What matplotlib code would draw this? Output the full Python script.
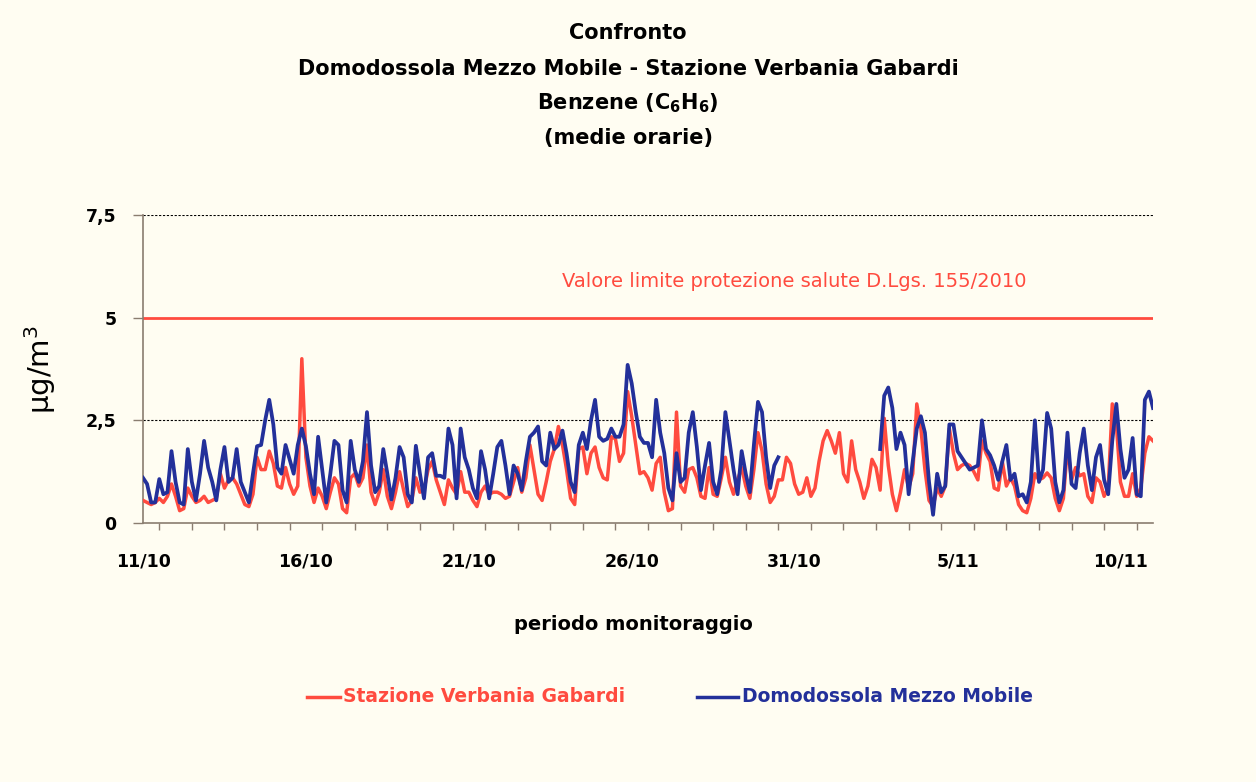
import numpy as np
import matplotlib
matplotlib.use("Agg")
import matplotlib.pyplot as plt
from matplotlib.lines import Line2D

nan = np.nan

# ---- data (one value every 3 hours from 11/10 00:00) ----
step_hours = 3

verbania_gabardi = [
    0.55, 0.5, 0.45, 0.5, 0.6, 0.5, 0.65, 0.95, 0.65, 0.3,
    0.35, 0.85, 0.65, 0.5, 0.55, 0.65, 0.5, 0.55, 0.6, 1.2,
    0.85, 1.05, 1.1, 0.95, 0.7, 0.45, 0.4, 0.7, 1.6, 1.3,
    1.3, 1.75, 1.45, 0.9, 0.85, 1.35, 0.95, 0.7, 0.9, 4.0,
    1.6, 0.9, 0.5, 0.85, 0.65, 0.35, 0.75, 1.1, 0.95, 0.35,
    0.25, 1.1, 1.2, 0.9, 1.1, 1.9, 0.75, 0.45, 0.75, 1.3,
    0.65, 0.35, 0.75, 1.25, 0.8, 0.4, 0.55, 1.1, 0.75, 0.8,
    1.3, 1.5, 1.05, 0.75, 0.45, 1.05, 0.85, 0.7, 1.25, 0.75,
    0.75, 0.55, 0.4, 0.75, 0.9, 0.7, 0.75, 0.75, 0.7, 0.6,
    0.65, 1.0, 1.35, 0.75, 1.1, 1.9, 1.3, 0.7, 0.55, 1.0,
    1.5, 1.8, 2.35, 1.9, 1.3, 0.6, 0.45, 1.8, 1.85, 1.2,
    1.7, 1.85, 1.35, 1.1, 1.05, 2.1, 2.05, 1.5, 1.7, 3.2,
    2.6, 1.9, 1.2, 1.25, 1.1, 0.8, 1.45, 1.6, 0.75, 0.3,
    0.35, 2.7, 0.9, 0.75, 1.3, 1.35, 1.1, 0.65, 0.6, 1.35,
    0.7, 0.65, 1.1, 1.6, 1.0, 0.7, 1.05, 1.35, 0.9, 0.6,
    1.3, 2.2, 1.75, 0.95, 0.5, 0.65, 1.05, 1.05, 1.6, 1.45,
    0.95, 0.7, 0.75, 1.1, 0.65, 0.85, 1.5, 2.0, 2.25, 2.0,
    1.7, 2.2, 1.2, 1.0, 2.0, 1.3, 1.0, 0.6, 0.9, 1.55,
    1.35, 0.8, 2.55, 1.4, 0.7, 0.3, 0.75, 1.3, 0.85, 1.2,
    2.9, 2.3, 1.3, 0.55, 0.4, 0.85, 0.65, 0.9, 2.3, 1.7,
    1.3, 1.4, 1.45, 1.4, 1.25, 1.05, 2.0, 1.7, 1.5, 0.85,
    0.8, 1.5, 0.9, 1.1, 0.9, 0.45, 0.3, 0.25, 0.6, 1.2,
    1.05, 1.1, 1.22, 1.1, 0.6, 0.3, 0.6, 1.85, 1.05, 1.35,
    1.15, 1.2, 0.65, 0.5, 1.1, 1.0, 0.65, 0.85, 2.9, 2.4,
    1.0, 0.65, 0.65, 1.2, 0.65, 0.85, 1.7, 2.1, 2.0,
]

domodossola_mezzo_mobile = [
    1.1, 0.95, 0.5, 0.5, 1.07, 0.7, 0.75, 1.75, 1.0, 0.5,
    0.45, 1.8, 1.0, 0.55, 1.2, 2.0, 1.35, 1.0, 0.55, 1.3,
    1.85, 1.0, 1.1, 1.8, 1.0, 0.75, 0.5, 1.2, 1.87, 1.9,
    2.5, 3.0, 2.4, 1.35, 1.2, 1.9, 1.55, 1.2, 1.9, 2.3,
    1.87, 1.2, 0.7, 2.1, 1.3, 0.5, 1.2, 2.0, 1.9, 0.8,
    0.5, 2.0, 1.3, 1.0, 1.5, 2.7, 1.4, 0.75, 0.9, 1.8,
    1.2, 0.57, 1.1, 1.85, 1.6, 0.7, 0.5, 1.88, 1.2, 0.6,
    1.6, 1.7, 1.15, 1.15, 1.1, 2.3, 1.9, 0.6, 2.3, 1.6,
    1.3, 0.85, 0.6, 1.75, 1.3, 0.6, 1.2, 1.85, 2.0, 1.4,
    0.7, 1.4, 1.2, 0.8, 1.5, 2.1, 2.2, 2.35, 1.5, 1.4,
    2.2, 1.8, 1.9, 2.25, 1.7, 1.0, 0.75, 1.9, 2.2, 1.8,
    2.5, 3.0, 2.1, 2.0, 2.05, 2.3, 2.1, 2.1, 2.4, 3.85,
    3.4, 2.7, 2.1, 1.95, 1.95, 1.6, 3.0, 2.2, 1.7, 0.85,
    0.55, 1.7, 1.0, 1.1, 2.2, 2.7, 1.85, 0.8, 1.4, 1.95,
    1.0, 0.7, 1.3, 2.7, 2.0, 1.3, 0.7, 1.75, 1.2, 0.75,
    1.9, 2.95, 2.7, 1.6, 0.85, 1.4, 1.6, nan, nan, nan,
    nan, nan, nan, nan, nan, nan, nan, nan, nan, nan,
    nan, nan, nan, nan, nan, nan, nan, nan, nan, nan,
    nan, 1.8, 3.1, 3.3, 2.8, 1.8, 2.2, 1.9, 0.7, 1.5,
    2.3, 2.6, 2.2, 1.0, 0.2, 1.2, 0.75, 0.9, 2.4, 2.4,
    1.75, 1.6, 1.45, 1.3, 1.35, 1.4, 2.5, 1.8, 1.65, 1.4,
    1.05, 1.5, 1.9, 1.05, 1.2, 0.65, 0.7, 0.5, 1.0, 2.5,
    1.0, 1.3, 2.68, 2.3, 1.0, 0.5, 0.8, 2.2, 0.95, 0.85,
    1.7, 2.3, 1.4, 0.8, 1.6, 1.9, 1.05, 0.7, 2.0, 2.9,
    1.8, 1.1, 1.3, 2.07, 0.7, 0.65, 3.0, 3.2, 2.8,
]

date_labels = ["11/10", "16/10", "21/10", "26/10", "31/10", "5/11", "10/11"]
label_every_days = 5
period_days = 31
limit_value = 5
limit_text = "Valore limite protezione salute D.Lgs. 155/2010"
y_ticks = [0, 2.5, 5, 7.5]
y_tick_labels = ["0", "2,5", "5", "7,5"]
series_names = ["Stazione Verbania Gabardi", "Domodossola Mezzo Mobile"]

assert len(verbania_gabardi) == len(domodossola_mezzo_mobile)

# ---- style ----
RED = "#FF4B3F"
BLUE = "#23309A"
BG = "#FFFDF2"
SPINE = "#8A7D70"
plt.rcParams['font.family'] = ['DejaVu Sans']

days = np.arange(len(verbania_gabardi)) * step_hours / 24.0
red_vals = np.array(verbania_gabardi, dtype=float)
blue_vals = np.array(domodossola_mezzo_mobile, dtype=float)

fig = plt.figure(figsize=(12.56, 7.82), dpi=100, facecolor=BG)
ax = fig.add_axes([143 / 1256, 1 - 523 / 782, 1010 / 1256, 308 / 782], facecolor=BG)

ax.plot(days, red_vals, color=RED, lw=2.5, zorder=3, solid_joinstyle='round')
ax.plot(days, blue_vals, color=BLUE, lw=2.7, zorder=4, solid_joinstyle='round')
ax.axhline(limit_value, color=RED, lw=2.0, zorder=2)
for yv in (2.5, 7.5):
    ax.axhline(yv, color='black', lw=0.8, ls=(0, (2, 1.5)), zorder=1)

ax.set_xlim(0, period_days)
ax.set_ylim(0, 7.5)

ax.set_xticks(np.arange(len(date_labels)) * label_every_days)
ax.set_xticklabels(date_labels, fontweight='bold', fontsize=12.5)
ax.set_xticks(np.arange(period_days) + 0.5, minor=True)
ax.tick_params(axis='x', which='major', length=0, pad=21)
ax.tick_params(axis='x', which='minor', length=5, width=1, direction='out', color=SPINE)

ax.set_yticks(y_ticks)
ax.set_yticklabels(y_tick_labels, fontweight='bold', fontsize=12.5)
ax.tick_params(axis='y', length=7, width=1, direction='out', color=SPINE, pad=12)

for s in ('top', 'right'):
    ax.spines[s].set_visible(False)
for s in ('left', 'bottom'):
    ax.spines[s].set_color(SPINE)
    ax.spines[s].set_linewidth(1.2)

ax.text(12.86, 5.87, limit_text, color=RED, fontsize=14, va='center', ha='left')

# titles
title_lines = ["Confronto",
               "Domodossola Mezzo Mobile - Stazione Verbania Gabardi",
               r"Benzene (C$_\mathbf{6}$H$_\mathbf{6}$)",
               "(medie orarie)"]
for line, ypx in zip(title_lines, [33, 69, 103, 138]):
    fig.text(628 / 1256, 1 - ypx / 782, line, ha='center', va='center',
             fontsize=15, fontweight='bold')

fig.text(40 / 1256, 1 - 370 / 782, r"μg/m$^3$", rotation=90, ha='center', va='center', fontsize=21)
fig.text(633 / 1256, 1 - 625 / 782, "periodo monitoraggio", ha='center', va='center',
         fontsize=14, fontweight='bold')

# legend
leg_y = 1 - 697 / 782
for (x0, x1, xt), name, col in zip([(307, 340, 343), (697, 738, 742)], series_names, [RED, BLUE]):
    fig.add_artist(Line2D([x0 / 1256, x1 / 1256], [leg_y, leg_y], color=col, lw=2.5,
                          transform=fig.transFigure))
    fig.text(xt / 1256, leg_y, name, color=col, ha='left', va='center',
             fontsize=13.5, fontweight='bold')

fig.savefig("out.png", dpi=100, facecolor=BG)
